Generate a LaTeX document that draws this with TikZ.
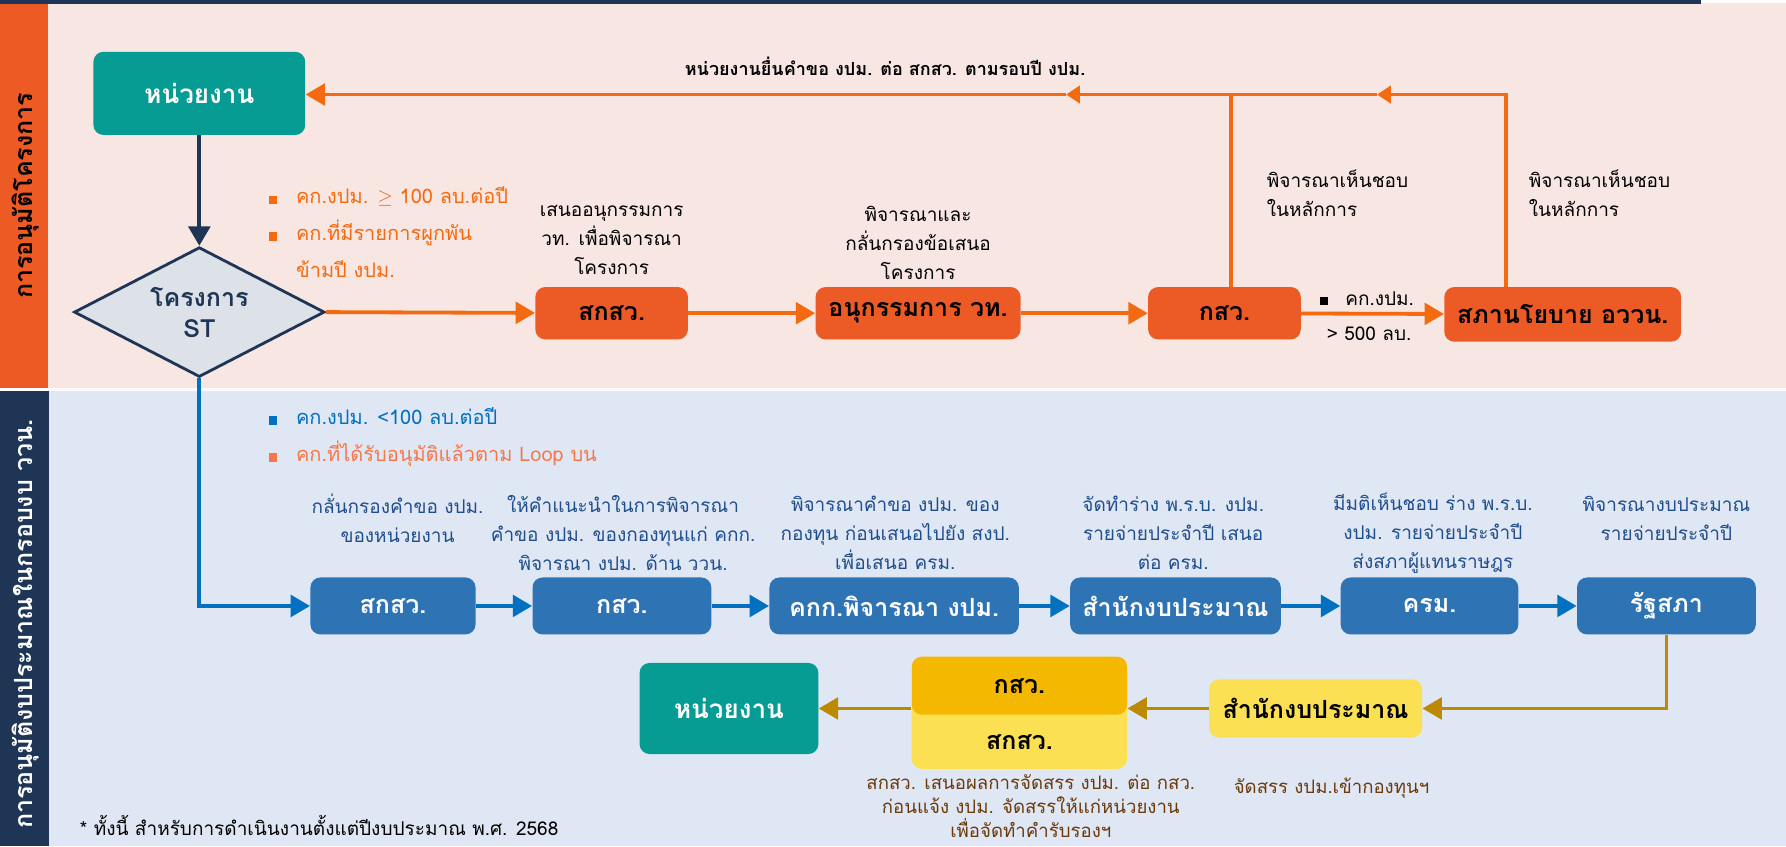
\documentclass[tikz,border=0pt]{standalone}
\usepackage{fontspec}
\setmainfont[Script=Thai]{Loma}
\usetikzlibrary{shapes.geometric,arrows.meta}

\definecolor{orgband}{HTML}{EE5A24}
\definecolor{orgbox}{HTML}{EC5B26}
\definecolor{orgline}{HTML}{F36A10}
\definecolor{pinkbg}{HTML}{F7E6E2}
\definecolor{navy}{HTML}{1F3556}
\definecolor{bluebg}{HTML}{DFE6F4}
\definecolor{bluebox}{HTML}{2E74B5}
\definecolor{blueline}{HTML}{0070C0}
\definecolor{unitteal}{HTML}{069C94}
\definecolor{diafill}{HTML}{DDE1E8}
\definecolor{goldline}{HTML}{BC8A00}
\definecolor{ylight}{HTML}{FAE052}
\definecolor{ydark}{HTML}{F5B800}
\definecolor{bluetext}{HTML}{1F4E8C}
\definecolor{browntext}{HTML}{6B3A0A}
\definecolor{salmon}{HTML}{F4784A}

\newcommand{\sqbull}[1]{\makebox[1.35em][l]{\textcolor{#1}{\rule{0.42em}{0.42em}}}}

\begin{document}
\begin{tikzpicture}[x=0.02cm,y=-0.02cm,
  unitbox/.style={rounded corners=5pt,fill=unitteal,text=white,font=\bfseries\fontsize{13}{15}\selectfont},
  obox/.style={rounded corners=5pt,fill=orgbox,text=black,minimum height=0.92cm,font=\bfseries\fontsize{12.5}{15}\selectfont},
  bbox/.style={rounded corners=5pt,fill=bluebox,text=white,minimum height=1cm,font=\bfseries\fontsize{12.5}{15}\selectfont},
  ybox/.style={rounded corners=5pt,fill=ylight,text=black,font=\bfseries\fontsize{12.5}{15}\selectfont},
  ydbox/.style={rounded corners=5pt,fill=ydark,text=black,font=\bfseries\fontsize{12.5}{15}\selectfont},
  stdiamond/.style={diamond,draw=navy,line width=1.4pt,fill=diafill,inner sep=0pt,minimum width=4.4cm,minimum height=2.28cm},
  desc/.style={align=center,font=\fontsize{9.5}{14.5}\selectfont},
  bdesc/.style={desc,text=bluetext},
  brtext/.style={align=center,text=browntext,font=\fontsize{9.3}{12}\selectfont},
  tip/.style={-{Triangle[length=0.34cm,width=0.38cm]}},
  midtip/.style={-{Triangle[length=0.24cm,width=0.3cm]}},
  oline/.style={draw=orgline,line width=1.9pt},
  nline/.style={draw=navy,line width=1.9pt,tip},
  bline/.style={draw=blueline,line width=1.9pt,tip},
  gline/.style={draw=goldline,line width=1.8pt,tip}]
\useasboundingbox (0,0) rectangle (1568,743);
% bands
\fill[pinkbg] (0,3) rectangle (1568,341);
\fill[bluebg] (0,343) rectangle (1568,743);
\fill[orgband] (0,3) rectangle (42,341);
\fill[navy] (0,343) rectangle (43,743);
\fill[navy] (0,0) rectangle (1493,3.5);
\node[rotate=90,font=\bfseries\fontsize{12.5}{14}\selectfont] (lbltop) at (22,172) {การอนุมัติโครงการ};
\node[rotate=90,text=white,font=\bfseries\fontsize{12.5}{14}\selectfont] (lblbot) at (22,548) {การอนุมัติงบประมาณในกรอบงบ ววน.};

% project approval loop
\node[unitbox,minimum width=3.72cm,minimum height=1.46cm] (unit1) at (175,82) {หน่วยงาน};
\node[stdiamond,label={[align=center,text=navy,font=\bfseries\fontsize{12.5}{15.5}\selectfont]center:{โครงการ\\ST}}] (st) at (175,274) {};
\node[obox,minimum width=2.68cm] (sk1) at (537,275) {สกสว.};
\node[obox,minimum width=3.6cm] (sub) at (806,275) {อนุกรรมการ วท.};
\node[obox,minimum width=2.68cm] (ks1) at (1075,275) {กสว.};
\node[obox,minimum width=4.16cm,minimum height=0.96cm] (sapa) at (1372,276) {สภานโยบาย อววน.};

\draw[nline] (unit1) -- (st);
\draw[oline,tip] (st.east) -- (sk1);
\draw[oline,tip] (sk1) -- (sub);
\draw[oline,tip] (sub) -- (ks1);
\draw[oline,tip] (ks1) -- (sapa);

\coordinate (jk) at (1081,83);
\coordinate (js) at (1322,83);
\coordinate (m2) at (1209,83);
\coordinate (m1) at (936,83);
\draw[oline,midtip] (js |- sapa.north) -- (js) -- (m2);
\draw[oline] (m2) -- (jk);
\draw[oline,midtip] (jk |- ks1.north) -- (jk) -- (m1);
\draw[oline,tip] (m1) -- (unit1.east |- m1);

\node[font=\bfseries\fontsize{9}{11}\selectfont] (req) at (777,58) {หน่วยงานยื่นคำขอ งปม. ต่อ สกสว. ตามรอบปี งปม.};
\node[anchor=west,align=left,text=orgline,font=\fontsize{10}{18.4}\selectfont] (crit1) at (230,204)
  {\sqbull{orgline}คก.งปม. $\geq$ 100 ลบ.ต่อปี\\\sqbull{orgline}คก.ที่มีรายการผูกพัน\\\makebox[1.35em]{}ข้ามปี งปม.};
\node[desc] (d1) at (537,211) {เสนออนุกรรมการ\\วท. เพื่อพิจารณา\\โครงการ};
\node[desc] (d2) at (806,213) {พิจารณาและ\\กลั่นกรองข้อเสนอ\\โครงการ};
\node[desc,anchor=west,align=left] (d3) at (1106,170) {พิจารณาเห็นชอบ\\ในหลักการ};
\node[desc,anchor=west,align=left] (d4) at (1336,170) {พิจารณาเห็นชอบ\\ในหลักการ};
\node[font=\fontsize{9.5}{12}\selectfont] (lim1) at (1200,262) {\sqbull{black}คก.งปม.};
\node[font=\fontsize{9.5}{12}\selectfont] (lim2) at (1202,293) {> 500 ลบ.};

% budget approval chain
\node[bbox,minimum width=2.9cm] (sk2) at (345,532) {สกสว.};
\node[bbox,minimum width=3.14cm] (ks2) at (546,532) {กสว.};
\node[bbox,minimum width=4.38cm] (kkk) at (785,532) {คกก.พิจารณา งปม.};
\node[bbox,minimum width=3.7cm] (bud1) at (1032,532) {สำนักงบประมาณ};
\node[bbox,minimum width=3.12cm] (cab) at (1255,532) {ครม.};
\node[bbox,minimum width=3.14cm] (parl) at (1463,532) {รัฐสภา};

\draw[bline] (st.south) |- (sk2);
\draw[bline] (sk2) -- (ks2);
\draw[bline] (ks2) -- (kkk);
\draw[bline] (kkk) -- (bud1);
\draw[bline] (bud1) -- (cab);
\draw[bline] (cab) -- (parl);

\node[anchor=west,align=left,font=\fontsize{10}{18.4}\selectfont] (crit2) at (230,384)
  {\sqbull{blueline}\textcolor{blueline}{คก.งปม. <100 ลบ.ต่อปี}\\\sqbull{salmon}\textcolor{salmon}{คก.ที่ได้รับอนุมัติแล้วตาม Loop บน}};
\node[bdesc] (e1) at (349,455) {กลั่นกรองคำขอ งปม.\\ของหน่วยงาน};
\node[bdesc] (e2) at (547,468) {ให้คำแนะนำในการพิจารณา\\คำขอ งปม. ของกองทุนแก่ คกก.\\พิจารณา งปม. ด้าน ววน.};
\node[bdesc] (e3) at (786,468) {พิจารณาคำขอ งปม. ของ\\กองทุน ก่อนเสนอไปยัง สงป.\\เพื่อเสนอ ครม.};
\node[bdesc] (e4) at (1030,468) {จัดทำร่าง พ.ร.บ. งปม.\\รายจ่ายประจำปี เสนอ\\ต่อ ครม.};
\node[bdesc] (e5) at (1258,468) {มีมติเห็นชอบ ร่าง พ.ร.บ.\\งปม. รายจ่ายประจำปี\\ส่งสภาผู้แทนราษฎร};
\node[bdesc] (e6) at (1463,455) {พิจารณางบประมาณ\\รายจ่ายประจำปี};

% allocation back to units
\node[ybox,minimum width=3.74cm,minimum height=1.02cm] (bud2) at (1155,622) {สำนักงบประมาณ};
\node[ybox,minimum width=3.78cm,minimum height=1.96cm] (pair) at (895,626) {};
\node[ydbox,minimum width=3.78cm,minimum height=1.02cm] (ks3) at (895,602) {กสว.};
\node[font=\bfseries\fontsize{12.5}{15}\selectfont] (sk3) at (895,652) {สกสว.};
\node[unitbox,minimum width=3.14cm,minimum height=1.6cm] (unit2) at (640,622) {หน่วยงาน};

\draw[gline] (parl.south) |- (bud2.east);
\draw[gline] (bud2.west) -- (bud2.west -| pair.east);
\draw[gline] (pair.west |- unit2.east) -- (unit2.east);

\node[brtext] (n1) at (905,708) {สกสว. เสนอผลการจัดสรร งปม. ต่อ กสว.\\ก่อนแจ้ง งปม. จัดสรรให้แก่หน่วยงาน\\เพื่อจัดทำคำรับรองฯ};
\node[brtext,anchor=west] (n2) at (1077,692) {จัดสรร งปม.เข้ากองทุนฯ};
\node[anchor=west,font=\fontsize{9.5}{12}\selectfont] (foot) at (64,725) {* ทั้งนี้ สำหรับการดำเนินงานตั้งแต่ปีงบประมาณ พ.ศ. 2568};
\end{tikzpicture}
\end{document}
